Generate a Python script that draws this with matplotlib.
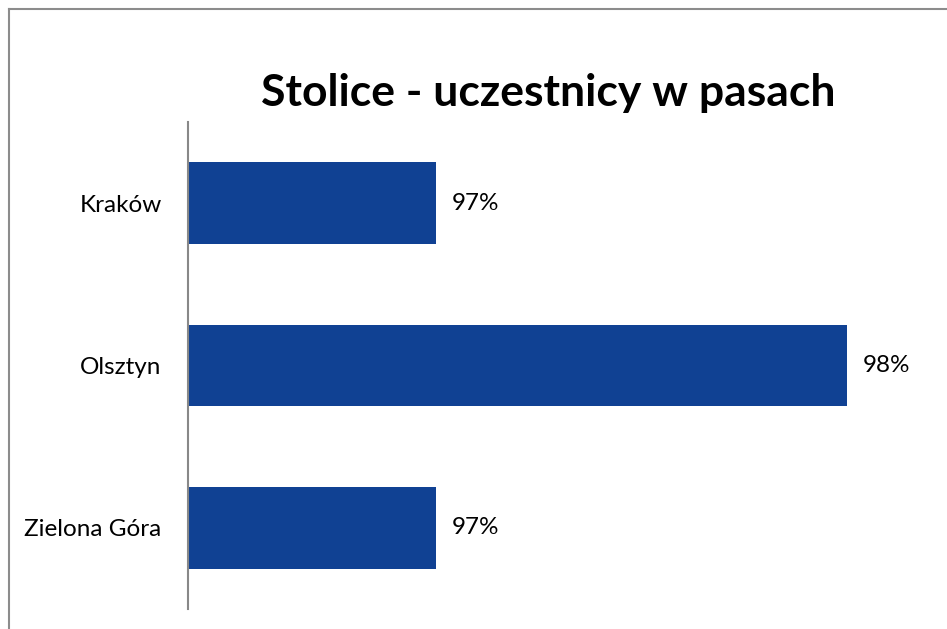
import matplotlib
matplotlib.use("Agg")
import matplotlib.pyplot as plt
from matplotlib.lines import Line2D

categories = ["Kraków", "Olsztyn", "Zielona Góra"]
values = [0.97, 0.98, 0.97]
value_labels = ["97%", "98%", "97%"]
title = "Stolice - uczestnicy w pasach"

plt.rcParams['font.family'] = ['Lato', 'DejaVu Sans']

fig = plt.figure(figsize=(9.47, 6.29), dpi=100)
W, H = 947, 629
ax = fig.add_axes([188 / W, (H - 609) / H, (900 - 188) / W, (609 - 122) / H])

color = "#104193"
ypos = list(range(len(categories)))
ax.barh(ypos, values, height=0.505, color=color)
ax.set_ylim(len(categories) - 0.5, -0.5)
ax.set_xlim(0.963966, 0.98129)
ax.set_yticks(ypos)
ax.set_yticklabels(categories, fontsize=17.5)
ax.tick_params(axis='y', length=0, pad=19)
ax.set_xticks([])
for s in ["top", "right", "bottom"]:
    ax.spines[s].set_visible(False)
ax.spines["left"].set_color("#888888")
ax.spines["left"].set_linewidth(1.5)

for y, v, lab in zip(ypos, values, value_labels):
    ax.annotate(lab, (v, y), xytext=(11.5, 0), textcoords="offset points",
                va="center", ha="left", fontsize=17.5)

fig.text(548 / W, 1 - 93 / H, title, ha="center", va="center",
         fontsize=32, fontweight="bold")

# outer chart border (left and top visible)
fig.add_artist(Line2D([8.5 / W, 8.5 / W], [0, 1 - 9 / H], transform=fig.transFigure,
                      color="#8c8c8c", lw=1.5))
fig.add_artist(Line2D([8.5 / W, 1], [1 - 9 / H, 1 - 9 / H], transform=fig.transFigure,
                      color="#8c8c8c", lw=1.5))

fig.savefig("out.png", dpi=100)
